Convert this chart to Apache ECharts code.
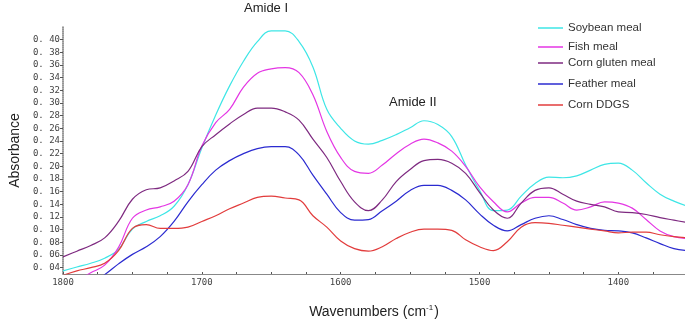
<!DOCTYPE html>
<html>
<head>
<meta charset="utf-8">
<script src="https://cdn.jsdelivr.net/npm/echarts@6/dist/echarts.min.js"></script>
<style>
  html, body { margin: 0; padding: 0; background: #fff; }
  #chart { width: 685px; height: 324px; }
</style>
</head>
<body>
<div id="chart"></div>
<script>
// wavenumbers (cm-1), every 10 units
const wavenumbers = [1800, 1790, 1780, 1770, 1760, 1750, 1740, 1730, 1720, 1710,
    1700, 1690, 1680, 1670, 1660, 1650, 1640, 1630, 1620, 1610,
    1600, 1590, 1580, 1570, 1560, 1550, 1540, 1530, 1520, 1510,
    1500, 1490, 1480, 1470, 1460, 1450, 1440, 1430, 1420, 1410,
    1400, 1390, 1380, 1370, 1360, 1350];

const soybeanMeal = [0.035, 0.041, 0.047, 0.055, 0.069, 0.101, 0.113, 0.122, 0.137, 0.171,
    0.229, 0.281, 0.327, 0.366, 0.397, 0.414, 0.414, 0.397, 0.357, 0.290,
    0.260, 0.240, 0.235, 0.241, 0.250, 0.261, 0.272, 0.266, 0.247, 0.202,
    0.162, 0.130, 0.131, 0.153, 0.173, 0.183, 0.182, 0.185, 0.194, 0.203,
    0.205, 0.194, 0.174, 0.156, 0.145, 0.137];

const fishMeal = [0.011, 0.020, 0.032, 0.044, 0.072, 0.118, 0.131, 0.136, 0.145, 0.171,
    0.232, 0.269, 0.290, 0.325, 0.347, 0.354, 0.356, 0.348, 0.313, 0.255,
    0.214, 0.192, 0.189, 0.202, 0.220, 0.235, 0.243, 0.237, 0.224, 0.200,
    0.168, 0.144, 0.128, 0.142, 0.151, 0.151, 0.142, 0.131, 0.136, 0.144,
    0.142, 0.134, 0.116, 0.098, 0.089, 0.086];

const cornGlutenMeal = [0.057, 0.066, 0.075, 0.087, 0.113, 0.148, 0.163, 0.166, 0.177, 0.192,
    0.231, 0.250, 0.267, 0.282, 0.292, 0.292, 0.286, 0.273, 0.243, 0.214,
    0.176, 0.144, 0.130, 0.147, 0.176, 0.195, 0.209, 0.211, 0.205, 0.189,
    0.159, 0.131, 0.118, 0.142, 0.162, 0.166, 0.156, 0.145, 0.140, 0.136,
    0.128, 0.127, 0.124, 0.119, 0.115, 0.111];

const featherMeal = [-0.017, -0.002, 0.015, 0.029, 0.046, 0.061, 0.073, 0.089, 0.113, 0.144,
    0.171, 0.194, 0.209, 0.220, 0.228, 0.231, 0.231, 0.218, 0.186, 0.156,
    0.127, 0.115, 0.116, 0.130, 0.145, 0.162, 0.170, 0.170, 0.162, 0.147,
    0.125, 0.107, 0.098, 0.108, 0.118, 0.122, 0.116, 0.108, 0.102, 0.099,
    0.098, 0.095, 0.087, 0.078, 0.070, 0.067];

const cornDDGS = [0.028, 0.035, 0.040, 0.047, 0.067, 0.102, 0.108, 0.102, 0.102, 0.104,
    0.113, 0.122, 0.133, 0.142, 0.151, 0.153, 0.150, 0.147, 0.122, 0.104,
    0.082, 0.070, 0.066, 0.073, 0.086, 0.096, 0.101, 0.101, 0.099, 0.084,
    0.073, 0.067, 0.081, 0.104, 0.111, 0.110, 0.107, 0.104, 0.101, 0.098,
    0.095, 0.096, 0.096, 0.092, 0.089, 0.087];

// tick labels
const yTicks = [0.04, 0.06, 0.08, 0.10, 0.12, 0.14, 0.16, 0.18, 0.20, 0.22,
    0.24, 0.26, 0.28, 0.30, 0.32, 0.34, 0.36, 0.38, 0.40];
const xTicks = [1800, 1700, 1600, 1500, 1400];
const xMinorTicks = [1800, 1775, 1750, 1725, 1700, 1675, 1650, 1625, 1600, 1575,
    1550, 1525, 1500, 1475, 1450, 1425, 1400, 1375];

const seriesNames = ['Soybean meal', 'Fish meal', 'Corn gluten meal', 'Feather meal', 'Corn DDGS'];
const seriesData = [soybeanMeal, fishMeal, cornGlutenMeal, featherMeal, cornDDGS];
const seriesColors = ['#3ee6e6', '#e436e4', '#7e2a80', '#2b2bd0', '#e23c3c'];
const legendTops = [21, 40, 56, 77, 98];

let chart = echarts.init(document.getElementById('chart'));

let option = {
    animation: false,
    backgroundColor: '#fff',
    grid: { left: 53, right: 0, top: 27, bottom: 41 },
    legend: seriesNames.map((name, i) => ({
        data: [name],
        left: 538,
        top: legendTops[i],
        padding: 0,
        icon: 'rect',
        itemWidth: 25,
        itemHeight: 1.5,
        textStyle: { fontFamily: 'Liberation Sans', fontSize: 11.5, color: '#333', lineHeight: 14 }
    })),
    xAxis: {
        type: 'value',
        inverse: true,
        min: 1352,
        max: 1800,
        name: '{a|Wavenumbers (cm}{s|-1}{a|)}',
        nameLocation: 'middle',
        nameGap: 30,
        nameTextStyle: {
            rich: {
                a: { fontFamily: 'Liberation Sans', fontSize: 14, color: '#222' },
                s: { fontFamily: 'Liberation Sans', fontSize: 8, color: '#222', verticalAlign: 'top', padding: [0, 1, 8, 0] }
            }
        },
        splitLine: { show: false },
        axisLine: { lineStyle: { color: '#888', width: 1 } },
        axisTick: { customValues: xMinorTicks, inside: true, length: 2, lineStyle: { color: '#555' } },
        axisLabel: {
            customValues: xTicks,
            margin: 4,
            fontFamily: 'DejaVu Sans Mono',
            fontSize: 9,
            color: '#444',
            formatter: v => String(v)
        }
    },
    yAxis: {
        type: 'value',
        min: 0.03,
        max: 0.42,
        name: 'Absorbance',
        nameLocation: 'middle',
        nameGap: 35,
        nameTextStyle: { fontFamily: 'Liberation Sans', fontSize: 14, color: '#222' },
        splitLine: { show: false },
        axisLine: { show: true, lineStyle: { color: '#777', width: 1.5, type: [1, 1] } },
        axisTick: { customValues: yTicks, length: 3, lineStyle: { color: '#555' } },
        axisLabel: {
            customValues: yTicks,
            margin: 3,
            fontFamily: 'DejaVu Sans Mono',
            fontSize: 9,
            color: '#444',
            formatter: v => v.toFixed(2).replace('.', '. ')
        }
    },
    graphic: [
        { type: 'text', left: 244, top: 2, style: { text: 'Amide I', fontFamily: 'Liberation Sans', fontSize: 13, fill: '#222' } },
        { type: 'text', left: 389, top: 96, style: { text: 'Amide II', fontFamily: 'Liberation Sans', fontSize: 13, fill: '#222' } }
    ],
    series: seriesNames.map((name, i) => ({
        name: name,
        type: 'line',
        smooth: 0.4,
        symbol: 'none',
        color: seriesColors[i],
        lineStyle: { width: 1.2 },
        data: wavenumbers.map((w, k) => [w, seriesData[i][k]])
    }))
};

chart.setOption(option);
</script>
</body>
</html>
